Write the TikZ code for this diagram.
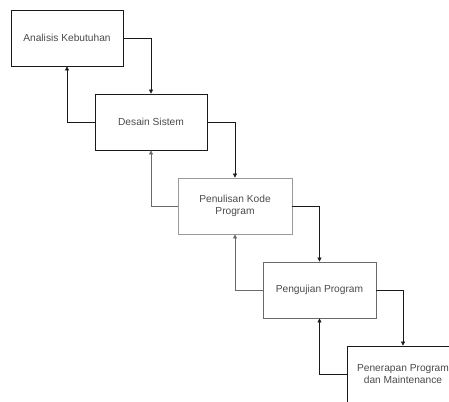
\documentclass[tikz,border=0pt]{standalone}
\usepackage{fontspec}
\setmainfont{Liberation Sans}
\usetikzlibrary{arrows.meta}
\definecolor{txt}{HTML}{4A4A4A}
\definecolor{bdA}{HTML}{1A1A1A}
\definecolor{bdB}{HTML}{9A9A9A}
\definecolor{bdC}{HTML}{6A6A6A}
\begin{document}
\begin{tikzpicture}[x=1pt,y=-1pt,
  phase/.style={draw=bdA,line width=0.8pt,minimum width=112pt,minimum height=56pt,
    inner sep=0pt,align=center,text=txt,font=\fontsize{10.2}{12}\selectfont},
  link/.style={draw=bdA,line width=0.7pt,-{Triangle[length=4pt,width=4pt]}}]
\useasboundingbox (0,0) rectangle (449,401);
\clip (0,0) rectangle (449,401);
\node[phase] (p1) at (67,38) {Analisis Kebutuhan};
\node[phase] (p2) at (151,122) {Desain Sistem};
\node[phase,draw=bdB,minimum width=114pt] (p3) at (235,206) {Penulisan Kode\\Program};
\node[phase,draw=bdC,minimum width=113pt] (p4) at (319.5,290) {Pengujian Program};
\node[phase,minimum width=112pt] (p5) at (403,374) {Penerapan Program\\dan Maintenance};
\draw[link] (p1.east) -| (p2.north);
\draw[link] (p2.west) -| (p1.south);
\draw[link] (p2.east) -| (p3.north);
\draw[link,draw=bdC] (p3.west) -| (p2.south);
\draw[link] (p3.east) -| (p4.north);
\draw[link,draw=bdC] (p4.west) -| (p3.south);
\draw[link] (p4.east) -| (p5.north);
\draw[link] (p5.west) -| (p4.south);
\end{tikzpicture}
\end{document}
